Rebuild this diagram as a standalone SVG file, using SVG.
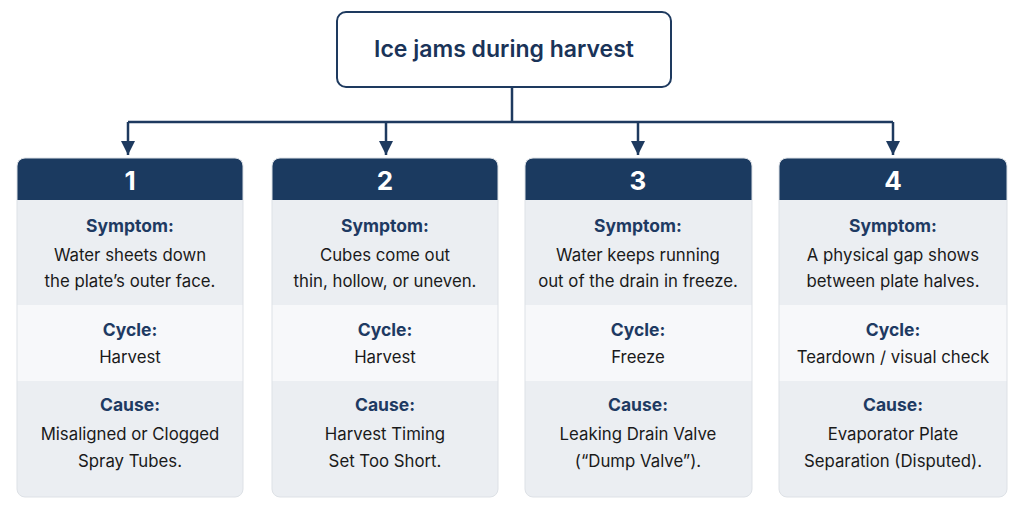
<svg xmlns="http://www.w3.org/2000/svg" width="1024" height="505" viewBox="0 0 1024 505">
<style>
.title{font-family:Inter,"Liberation Sans",sans-serif;font-size:23px;font-weight:600;fill:#1a3358;text-anchor:middle}
.num{font-family:Inter,"Liberation Sans",sans-serif;font-size:26px;font-weight:700;fill:#ffffff;text-anchor:middle}
.lbl{font-family:Inter,"Liberation Sans",sans-serif;font-size:17.5px;font-weight:700;fill:#1e3a62;text-anchor:middle}
.txt{font-family:Inter,"Liberation Sans",sans-serif;font-size:16.8px;font-weight:400;fill:#1a1a1a;text-anchor:middle}
.conn{stroke:#1e3a5f;stroke-width:2.5;fill:none}
.hdr{fill:#1b3a60}
.mid{fill:#f7f8fa}
</style>
<defs>
<marker id="ah" viewBox="0 0 10 10" refX="10" refY="5" markerWidth="5.6" markerHeight="5.6" orient="auto" markerUnits="strokeWidth">
<path d="M0,0 L10,5 L0,10 z" fill="#1e3a5f"/>
</marker>
<clipPath id="c1"><rect x="17" y="158" width="226" height="339" rx="8"/></clipPath>
<clipPath id="c2"><rect x="272" y="158" width="226" height="339" rx="8"/></clipPath>
<clipPath id="c3"><rect x="525" y="158" width="227" height="339" rx="8"/></clipPath>
<clipPath id="c4"><rect x="779" y="158" width="228" height="339" rx="8"/></clipPath>
</defs>
<rect width="1024" height="505" fill="#ffffff"/>
<g id="connectors">
<path class="conn" d="M512,87 V122"/>
<path class="conn" d="M128,122 H893"/>
<path class="conn" d="M128,122 V155" marker-end="url(#ah)"/>
<path class="conn" d="M386,122 V155" marker-end="url(#ah)"/>
<path class="conn" d="M638,122 V155" marker-end="url(#ah)"/>
<path class="conn" d="M893,122 V155" marker-end="url(#ah)"/>
</g>
<g id="root">
<rect x="337" y="12" width="334" height="75" rx="9" fill="#ffffff" stroke="#1e3a5f" stroke-width="2"/>
<text class="title" x="504" y="57">Ice jams during harvest</text>
</g>
<g id="card1">
<g clip-path="url(#c1)">
<rect x="17" y="158" width="226" height="339" fill="#ebeef2"/>
<rect class="hdr" x="17" y="158" width="226" height="42"/>
<rect class="mid" x="17" y="305" width="226" height="76"/>
</g>
<rect x="17" y="158" width="226" height="339" rx="8" fill="none" stroke="#dde1e6"/>
<text class="num" x="130" y="190">1</text>
<text class="lbl" x="130" y="232">Symptom:</text>
<text class="txt" x="130" y="261">Water sheets down</text>
<text class="txt" x="130" y="287">the plate’s outer face.</text>
<text class="lbl" x="130" y="336">Cycle:</text>
<text class="txt" x="130" y="363">Harvest</text>
<text class="lbl" x="130" y="411">Cause:</text>
<text class="txt" x="130" y="440">Misaligned or Clogged</text>
<text class="txt" x="130" y="467">Spray Tubes.</text>
</g>
<g id="card2">
<g clip-path="url(#c2)">
<rect x="272" y="158" width="226" height="339" fill="#ebeef2"/>
<rect class="hdr" x="272" y="158" width="226" height="42"/>
<rect class="mid" x="272" y="305" width="226" height="76"/>
</g>
<rect x="272" y="158" width="226" height="339" rx="8" fill="none" stroke="#dde1e6"/>
<text class="num" x="385" y="190">2</text>
<text class="lbl" x="385" y="232">Symptom:</text>
<text class="txt" x="385" y="261">Cubes come out</text>
<text class="txt" x="385" y="287">thin, hollow, or uneven.</text>
<text class="lbl" x="385" y="336">Cycle:</text>
<text class="txt" x="385" y="363">Harvest</text>
<text class="lbl" x="385" y="411">Cause:</text>
<text class="txt" x="385" y="440">Harvest Timing</text>
<text class="txt" x="385" y="467">Set Too Short.</text>
</g>
<g id="card3">
<g clip-path="url(#c3)">
<rect x="525" y="158" width="227" height="339" fill="#ebeef2"/>
<rect class="hdr" x="525" y="158" width="227" height="42"/>
<rect class="mid" x="525" y="305" width="227" height="76"/>
</g>
<rect x="525" y="158" width="227" height="339" rx="8" fill="none" stroke="#dde1e6"/>
<text class="num" x="638" y="190">3</text>
<text class="lbl" x="638" y="232">Symptom:</text>
<text class="txt" x="638" y="261">Water keeps running</text>
<text class="txt" x="638" y="287">out of the drain in freeze.</text>
<text class="lbl" x="638" y="336">Cycle:</text>
<text class="txt" x="638" y="363">Freeze</text>
<text class="lbl" x="638" y="411">Cause:</text>
<text class="txt" x="638" y="440">Leaking Drain Valve</text>
<text class="txt" x="638" y="467">(“Dump Valve”).</text>
</g>
<g id="card4">
<g clip-path="url(#c4)">
<rect x="779" y="158" width="228" height="339" fill="#ebeef2"/>
<rect class="hdr" x="779" y="158" width="228" height="42"/>
<rect class="mid" x="779" y="305" width="228" height="76"/>
</g>
<rect x="779" y="158" width="228" height="339" rx="8" fill="none" stroke="#dde1e6"/>
<text class="num" x="893" y="190">4</text>
<text class="lbl" x="893" y="232">Symptom:</text>
<text class="txt" x="893" y="261">A physical gap shows</text>
<text class="txt" x="893" y="287">between plate halves.</text>
<text class="lbl" x="893" y="336">Cycle:</text>
<text class="txt" x="893" y="363">Teardown / visual check</text>
<text class="lbl" x="893" y="411">Cause:</text>
<text class="txt" x="893" y="440">Evaporator Plate</text>
<text class="txt" x="893" y="467">Separation (Disputed).</text>
</g>
</svg>
